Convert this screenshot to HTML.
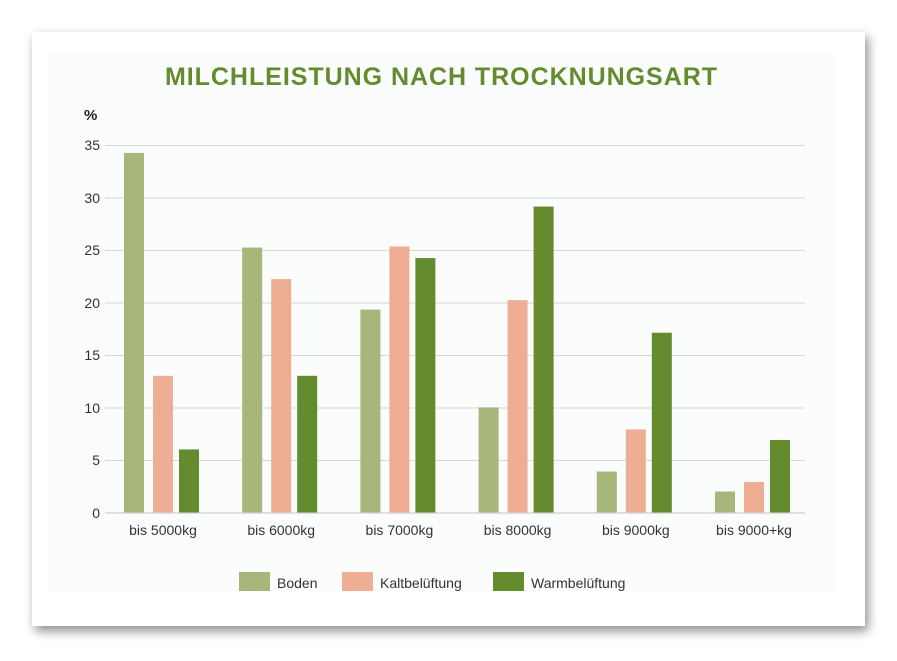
<!DOCTYPE html><html><head><style>body{margin:0;background:#fff;width:897px;height:661px;overflow:hidden;font-family:"Liberation Sans",sans-serif}</style></head><body>
<div style="position:absolute;left:32px;top:32px;width:833px;height:594px;background:#fff;box-shadow:3px 5px 10px rgba(0,0,0,0.45)"></div>
<svg style="position:absolute;left:0;top:0" width="897" height="661" font-family="Liberation Sans, sans-serif">
<rect x="48" y="54" width="788" height="537" fill="#fbfcfc"/>
<text x="441" y="85" text-anchor="middle" font-size="25" font-weight="bold" fill="#648c2e" textLength="552" lengthAdjust="spacing">MILCHLEISTUNG NACH TROCKNUNGSART</text>
<text x="84" y="120" font-size="15" font-weight="bold" fill="#222">%</text>
<g stroke="#d6d8d8" stroke-width="1">
<line x1="105" x2="805" y1="145.5" y2="145.5"/><line x1="105" x2="805" y1="198" y2="198"/><line x1="105" x2="805" y1="250.5" y2="250.5"/><line x1="105" x2="805" y1="303" y2="303"/><line x1="105" x2="805" y1="355.5" y2="355.5"/><line x1="105" x2="805" y1="408" y2="408"/><line x1="105" x2="805" y1="460.5" y2="460.5"/><line x1="105" x2="805" y1="513" y2="513" stroke-width="1.5"/>
</g>
<g font-size="14" fill="#333" text-anchor="end">
<text x="100" y="150">35</text><text x="100" y="203">30</text><text x="100" y="255">25</text><text x="100" y="308">20</text><text x="100" y="360">15</text><text x="100" y="413">10</text><text x="100" y="465">5</text><text x="100" y="518">0</text>
</g>
<g id="bars"></g>
<g font-size="14" fill="#333" text-anchor="middle" id="xl"></g>
<g font-size="14" fill="#333">
<rect x="239" y="572" width="31" height="19" fill="#a7b77c"/><text x="277" y="588">Boden</text>
<rect x="342" y="572" width="31" height="19" fill="#eeae94"/><text x="380" y="588">Kaltbelüftung</text>
<rect x="493" y="572" width="31" height="19" fill="#648c2e"/><text x="531" y="588">Warmbelüftung</text>
</g>
</svg>
<script>
var d=[[34.2,13,6],[25.2,22.2,13],[19.3,25.3,24.2],[10,20.2,29.1],[3.9,7.9,17.1],[2,2.9,6.9]],c=["#a7b77c","#eeae94","#648c2e"],off=[0,29,55],L=["bis 5000kg","bis 6000kg","bis 7000kg","bis 8000kg","bis 9000kg","bis 9000+kg"];
var b=document.getElementById("bars"),x=document.getElementById("xl"),ns="http://www.w3.org/2000/svg";
d.forEach(function(g,i){var x0=124+118.2*i;g.forEach(function(v,j){var r=document.createElementNS(ns,"rect");var h=v*10.514;r.setAttribute("x",x0+off[j]);r.setAttribute("y",512.5-h);r.setAttribute("width",20);r.setAttribute("height",h);r.setAttribute("fill",c[j]);b.appendChild(r)});var t=document.createElementNS(ns,"text");t.setAttribute("x",x0+39);t.setAttribute("y",535);t.textContent=L[i];x.appendChild(t)});
</script>
</body></html>
